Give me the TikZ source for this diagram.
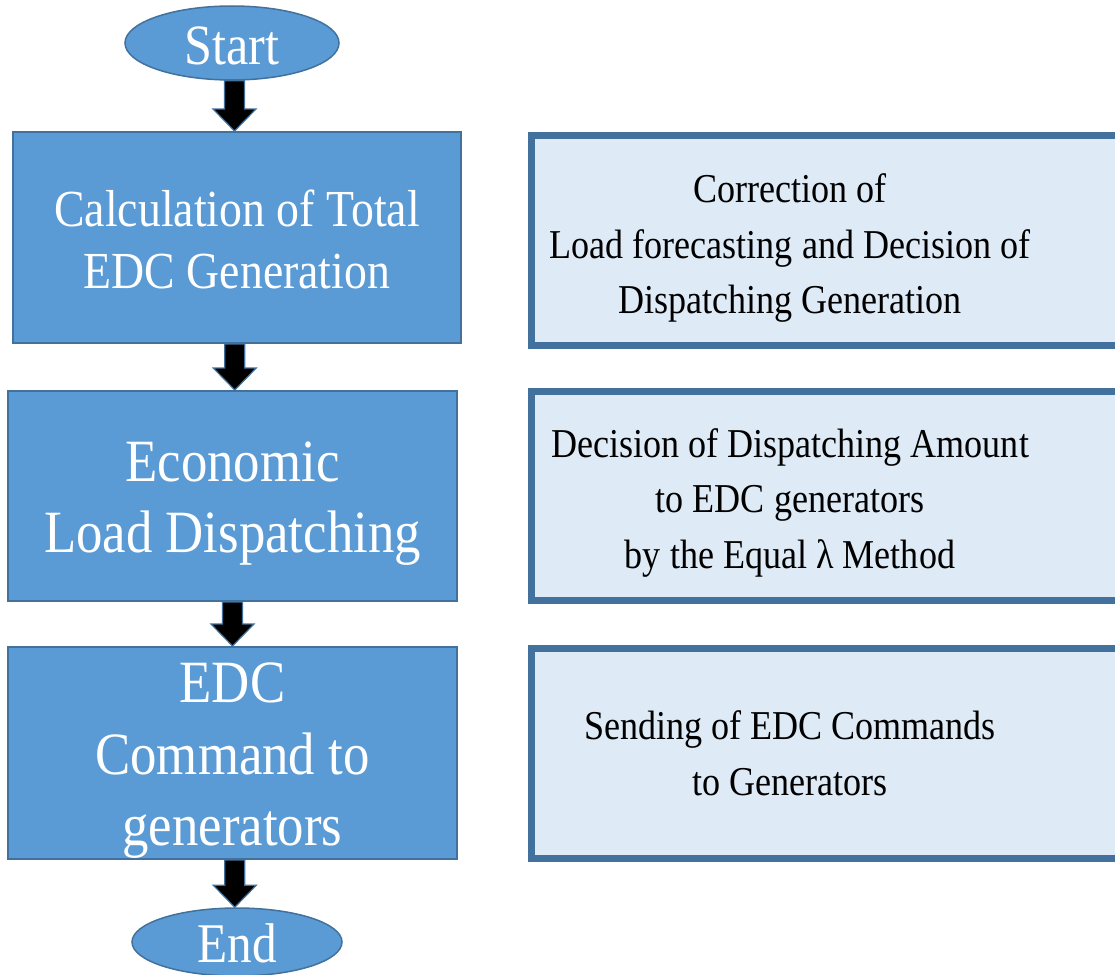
\documentclass[tikz,border=0pt]{standalone}
\usepackage{fontspec}
\setmainfont{Liberation Serif}
\usetikzlibrary{shapes.geometric,calc}
\definecolor{procfill}{HTML}{5B9BD5}
\definecolor{procedge}{HTML}{41719C}
\definecolor{notefill}{HTML}{DEEAF6}

% block arrow from the bottom of one node to the top of the next
\newcommand\flowarrow[2]{%
  \path[flowarr] let \p1=(#1.south), \p2=(#2.north), \n1={0.5*(\x1+\x2)} in
    ({\n1*1pt-10pt},\y1) -- ({\n1*1pt+10pt},\y1) -- ({\n1*1pt+10pt},{\y2+22pt})
    -- ({\n1*1pt+21.5pt},{\y2+22pt}) -- ({\n1*1pt},\y2)
    -- ({\n1*1pt-21.5pt},{\y2+22pt}) -- ({\n1*1pt-10pt},{\y2+22pt}) -- cycle;}

\begin{document}
\begin{tikzpicture}[x=1pt,y=-1pt,
  terminal/.style={ellipse, draw=procedge, fill=procfill, line width=1.5pt, inner sep=0pt},
  procbox/.style={rectangle, draw=procedge, fill=procfill, line width=2pt, inner sep=0pt},
  notebox/.style={rectangle, draw=procedge, fill=notefill, line width=7pt, inner sep=0pt},
  proctext/.style={text=white, align=center, inner sep=0pt, transform shape},
  notetext/.style={text=black, align=center, inner sep=0pt, transform shape,
    font=\fontsize{41}{55.5}\selectfont},
  flowarr/.style={fill=black, draw=procedge, line width=1.2pt, line join=miter}]

\useasboundingbox (0,0) rectangle (1115,974);
\clip (0,0) rectangle (1115,974);

% shapes of the flow (left) and of the descriptions (right)
\node[terminal, minimum width=214, minimum height=74] (start) at (232,43) {};
\node[procbox, minimum width=448, minimum height=211] (calc) at (237,237.5) {};
\node[procbox, minimum width=449, minimum height=210] (eld) at (232.5,496) {};
\node[procbox, minimum width=449, minimum height=212] (cmd) at (232.5,753) {};
\node[terminal, minimum width=210, minimum height=68] (end) at (237,942) {};

\node[notebox, minimum width=593.5, minimum height=210.5] (note1) at (828.25,240.25) {};
\node[notebox, minimum width=593.5, minimum height=209] (note2) at (828.25,496) {};
\node[notebox, minimum width=593.5, minimum height=210] (note3) at (828.25,753.5) {};

% texts, set in a condensed serif (x positions given in the scaled frame)
\begin{scope}[xscale=0.88]
\node[proctext, font=\fontsize{57}{68}\selectfont] (starttext) at (263.64,46) {Start};
\node[proctext, font=\fontsize{52}{62}\selectfont] (calctext) at (269.32,239)
  {Calculation of Total\\EDC Generation};
\node[proctext, font=\fontsize{60}{71}\selectfont] (eldtext) at (264.2,503.5)
  {Economic\\Load Dispatching};
\node[proctext, font=\fontsize{60}{71.5}\selectfont] (cmdtext) at (264.2,761)
  {EDC\\Command to\\generators};
\node[proctext, font=\fontsize{56}{67}\selectfont] (endtext) at (269.32,943) {End};

\node[notetext] (note1text) at (897.73,248)
  {Correction of\\Load forecasting and Decision of\\Dispatching Generation};
\node[notetext] (note2text) at (897.73,502.5)
  {Decision of Dispatching Amount\\to EDC generators\\by the Equal λ Method};
\node[notetext] (note3text) at (897.73,753.5)
  {Sending of EDC Commands\\to Generators};
\end{scope}

% connectors
\flowarrow{start}{calc}
\flowarrow{calc}{eld}
\flowarrow{eld}{cmd}
\flowarrow{cmd}{end}
\end{tikzpicture}
\end{document}
